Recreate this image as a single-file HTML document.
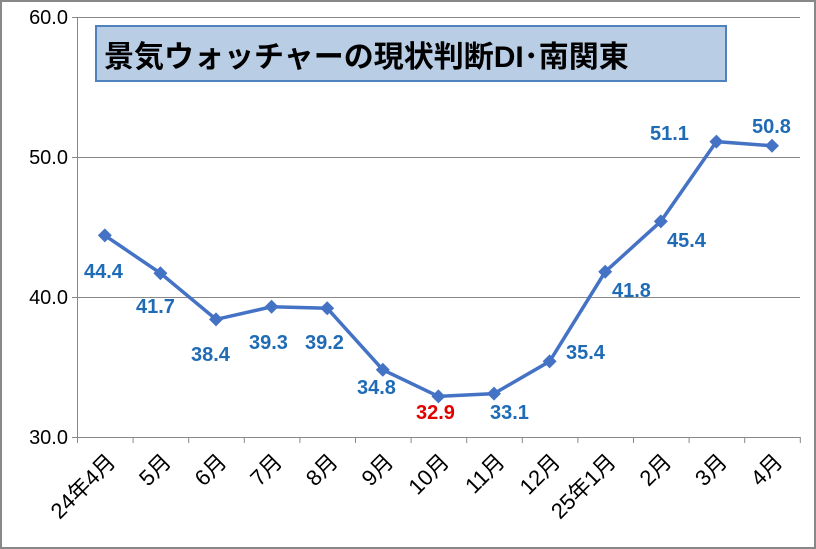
<!DOCTYPE html>
<html><head><meta charset="utf-8"><style>
body{margin:0;background:#fff}
svg{display:block}
text{font-family:"Liberation Sans","Noto Sans CJK JP",sans-serif}
.d{fill:#1F6BB5;font-weight:bold;font-size:20px}
.t{font-size:20px;fill:#000}
.x{font-size:22px;fill:#000}
</style></head><body>
<svg width="816" height="549" viewBox="0 0 816 549">
<rect x="1" y="1" width="814" height="547" fill="#fff" stroke="#888" stroke-width="2"/>
<g stroke="#888" stroke-width="1">
<line x1="72" y1="17.5" x2="800" y2="17.5"/>
<line x1="72" y1="157.5" x2="800" y2="157.5"/>
<line x1="72" y1="297.5" x2="800" y2="297.5"/>
<line x1="72" y1="437.5" x2="800" y2="437.5"/>
<line x1="77.5" y1="17" x2="77.5" y2="437"/>
</g>
<g stroke="#888" stroke-width="1" id="ticks"></g>
<g class="t" text-anchor="end">
<text x="68" y="24">60.0</text>
<text x="68" y="164">50.0</text>
<text x="68" y="304">40.0</text>
<text x="68" y="444">30.0</text>
</g>
<rect x="96" y="26" width="630" height="55" fill="#B9CDE5" stroke="#4F81BD" stroke-width="2"/>
<text x="104" y="67" font-size="30" font-weight="bold" fill="#000">景気ウォッチャーの現状判断DI･南関東</text>
<polyline id="pl" fill="none" stroke="#4472C4" stroke-width="3.5" points=""/>
<g fill="#4472C4" id="m"></g>
<g class="d">
<text x="84" y="278">44.4</text>
<text x="136" y="313">41.7</text>
<text x="191" y="361">38.4</text>
<text x="249" y="349">39.3</text>
<text x="305" y="349">39.2</text>
<text x="357" y="394">34.8</text>
<text x="416" y="419" fill="#E00000">32.9</text>
<text x="490" y="419">33.1</text>
<text x="566" y="359">35.4</text>
<text x="612" y="297">41.8</text>
<text x="667" y="247">45.4</text>
<text x="650" y="140">51.1</text>
<text x="752" y="133">50.8</text>
</g>
<g class="x" text-anchor="end" id="xl"></g>
<script>
var labs=["24年4月","5月","6月","7月","8月","9月","10月","11月","12月","25年1月","2月","3月","4月"];
var vals=[44.4,41.7,38.4,39.3,39.2,34.8,32.9,33.1,35.4,41.8,45.4,51.1,50.8];
var ns="http://www.w3.org/2000/svg",t=document.getElementById("ticks"),m=document.getElementById("m"),xl=document.getElementById("xl");
for(var i=0;i<=13;i++){var x=77.5+i*55.6;var l=document.createElementNS(ns,"line");l.setAttribute("x1",x);l.setAttribute("x2",x);l.setAttribute("y1",437);l.setAttribute("y2",443);t.appendChild(l);}
var pts=[];
for(var i=0;i<13;i++){var cx=104.8+i*55.6,cy=437-(vals[i]-30)*14;pts.push(cx+","+cy);
var p=document.createElementNS(ns,"polygon");p.setAttribute("points",(cx)+","+(cy-7)+" "+(cx+7)+","+cy+" "+cx+","+(cy+7)+" "+(cx-7)+","+cy);m.appendChild(p);
var tx=document.createElementNS(ns,"text");tx.setAttribute("transform","translate("+(cx+12)+",463) rotate(-45)");tx.textContent=labs[i];xl.appendChild(tx);}
document.getElementById("pl").setAttribute("points",pts.join(" "));
</script>
</svg>
</body></html>
